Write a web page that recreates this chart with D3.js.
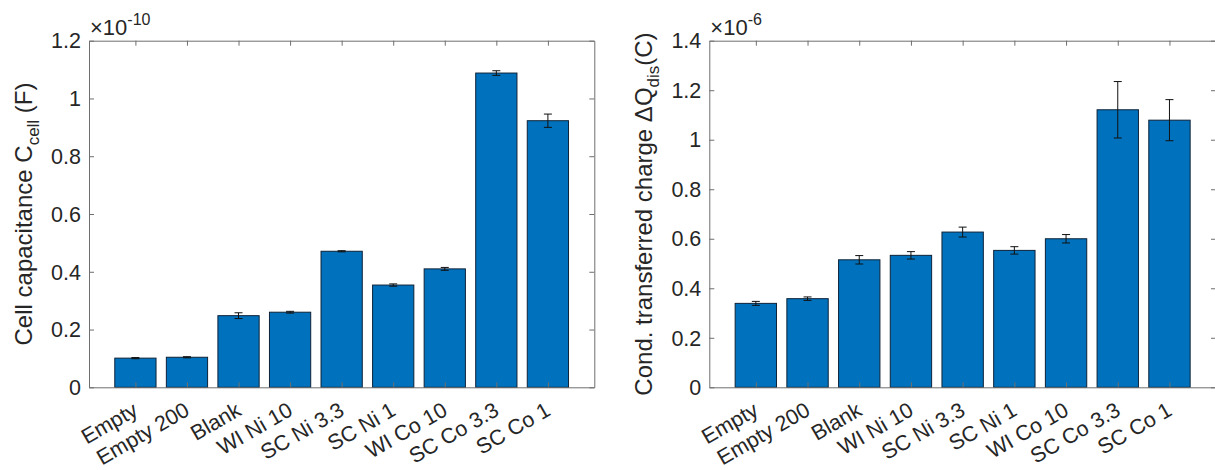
<!DOCTYPE html>
<html>
<head>
<meta charset="utf-8">
<script src="https://cdn.jsdelivr.net/npm/d3@7"></script>
<style>
  html, body { margin: 0; padding: 0; background: #fff; }
  svg text { font-family: "Liberation Sans", Arial, Helvetica, sans-serif; fill: #262626; }
</style>
</head>
<body>
<svg id="chart" width="1215" height="470"></svg>
<script>
// Sample categories (same for both panels)
const categories = ["Empty", "Empty 200", "Blank", "WI Ni 10", "SC Ni 3.3", "SC Ni 1", "WI Co 10", "SC Co 3.3", "SC Co 1"];

// Cell capacitance, in units of 1e-10 F
const capacitance    = [0.101, 0.104, 0.248, 0.260, 0.471, 0.354, 0.410, 1.088, 0.923];
const capacitanceErr = [0.002, 0.002, 0.010, 0.003, 0.002, 0.004, 0.005, 0.008, 0.023];
const capTicks = [0, 0.2, 0.4, 0.6, 0.8, 1, 1.2];
const capTickLabels = ["0", "0.2", "0.4", "0.6", "0.8", "1", "1.2"];

// Conductive transferred charge, in units of 1e-6 C
const charge    = [0.339, 0.358, 0.515, 0.533, 0.627, 0.553, 0.600, 1.121, 1.079];
const chargeErr = [0.008, 0.007, 0.017, 0.015, 0.020, 0.015, 0.017, 0.114, 0.083];
const chargeTicks = [0, 0.2, 0.4, 0.6, 0.8, 1, 1.2, 1.4];
const chargeTickLabels = ["0", "0.2", "0.4", "0.6", "0.8", "1", "1.2", "1.4"];

const svg = d3.select("#chart");
const BAR_COLOR = "#0072BD";
const AXIS_COLOR = "#6e6e6e";
const TICK_LEN = 5;
const TICK_FONT = 21.5;

function drawPanel(opts) {
  const { left, right, top, bottom, values, errors, yMax, ticks, tickLabels, exponent, labelMain, labelSub, labelTail, labelX } = opts;

  const x = d3.scaleLinear().domain([0.1, categories.length + 0.9]).range([left, right]);
  const y = d3.scaleLinear().domain([0, yMax]).range([bottom, top]);
  const barW = (x(1.8) - x(1));

  const g = svg.append("g");

  // bars
  g.selectAll("rect.bar").data(values).join("rect")
    .attr("class", "bar")
    .attr("x", (d, i) => x(i + 1) - barW / 2)
    .attr("width", barW)
    .attr("y", d => y(d))
    .attr("height", d => y(0) - y(d))
    .attr("fill", BAR_COLOR)
    .attr("stroke", "#0d2238")
    .attr("stroke-width", 1);

  // error bars
  const eb = g.selectAll("g.err").data(values).join("g").attr("class", "err")
    .attr("stroke", "#111").attr("stroke-width", 1).attr("fill", "none");
  eb.append("line")
    .attr("x1", (d, i) => x(i + 1)).attr("x2", (d, i) => x(i + 1))
    .attr("y1", (d, i) => y(d + errors[i])).attr("y2", (d, i) => y(d - errors[i]));
  eb.append("line")
    .attr("x1", (d, i) => x(i + 1) - 4).attr("x2", (d, i) => x(i + 1) + 4)
    .attr("y1", (d, i) => y(d + errors[i])).attr("y2", (d, i) => y(d + errors[i]));
  eb.append("line")
    .attr("x1", (d, i) => x(i + 1) - 4).attr("x2", (d, i) => x(i + 1) + 4)
    .attr("y1", (d, i) => y(d - errors[i])).attr("y2", (d, i) => y(d - errors[i]));

  // axes with inward ticks on all four sides (box on)
  const idx = d3.range(1, categories.length + 1);
  const axB = d3.axisBottom(x).tickValues(idx).tickSizeInner(-TICK_LEN).tickSizeOuter(0).tickFormat("");
  const axT = d3.axisTop(x).tickValues(idx).tickSizeInner(-TICK_LEN).tickSizeOuter(0).tickFormat("");
  const axL = d3.axisLeft(y).tickValues(ticks).tickSizeInner(-TICK_LEN).tickSizeOuter(0).tickFormat("");
  const axR = d3.axisRight(y).tickValues(ticks).tickSizeInner(-TICK_LEN).tickSizeOuter(0).tickFormat("");

  [[axB, `translate(0,${bottom})`], [axT, `translate(0,${top})`], [axL, `translate(${left},0)`], [axR, `translate(${right},0)`]]
    .forEach(([ax, tr]) => {
      const a = g.append("g").attr("transform", tr).call(ax);
      a.selectAll("path.domain").attr("stroke", AXIS_COLOR).attr("stroke-width", 1);
      a.selectAll(".tick line").attr("stroke", AXIS_COLOR).attr("stroke-width", 1);
    });

  // y tick labels
  g.selectAll("text.ytl").data(ticks).join("text")
    .attr("class", "ytl")
    .attr("x", left - 8)
    .attr("y", d => y(d))
    .attr("dy", "0.36em")
    .attr("text-anchor", "end")
    .attr("font-size", TICK_FONT)
    .text((d, i) => tickLabels[i]);

  // x tick labels, rotated
  g.selectAll("text.xtl").data(categories).join("text")
    .attr("class", "xtl")
    .attr("text-anchor", "end")
    .attr("font-size", TICK_FONT)
    .attr("transform", (d, i) => `translate(${x(i + 1) + 4},${bottom + 27}) rotate(-30)`)
    .text(d => d);

  // exponent
  const ex = g.append("text").attr("x", left + 1).attr("y", top - 6).attr("font-size", 22);
  ex.append("tspan").text("\u00d710");
  ex.append("tspan").attr("font-size", 16).attr("dy", -10).text(exponent);

  // y label
  const yl = g.append("text")
    .attr("transform", `translate(${labelX},${(top + bottom) / 2}) rotate(-90)`)
    .attr("text-anchor", "middle")
    .attr("font-size", 24);
  yl.append("tspan").text(labelMain);
  yl.append("tspan").attr("font-size", 17).attr("dy", 7).text(labelSub);
  yl.append("tspan").attr("dy", -7).text(labelTail);
}

drawPanel({
  left: 89, right: 594.3, top: 40.7, bottom: 387.3,
  values: capacitance, errors: capacitanceErr, yMax: 1.2,
  ticks: capTicks, tickLabels: capTickLabels, exponent: "-10",
  labelMain: "Cell capacitance C", labelSub: "cell", labelTail: " (F)", labelX: 32
});

drawPanel({
  left: 709.3, right: 1216, top: 40.7, bottom: 387.3,
  values: charge, errors: chargeErr, yMax: 1.4,
  ticks: chargeTicks, tickLabels: chargeTickLabels, exponent: "-6",
  labelMain: "Cond. transferred charge \u0394Q", labelSub: "dis", labelTail: "(C)", labelX: 652
});
</script>
</body>
</html>
